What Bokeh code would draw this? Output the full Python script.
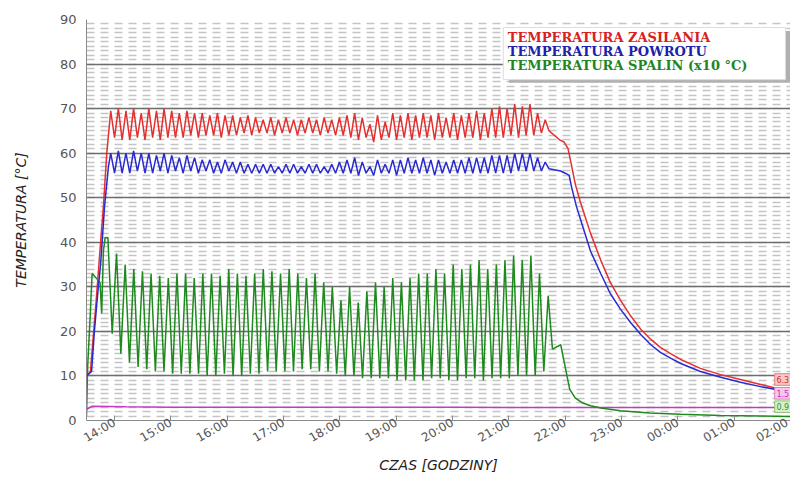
import math
from bokeh.plotting import figure
from bokeh.models import FixedTicker, SingleIntervalTicker, Range1d
from bokeh.embed import file_html
from bokeh.resources import INLINE
from bokeh.core.properties import value

# ---------------- data ----------------
hour_ticks = [14, 15, 16, 17, 18, 19, 20, 21, 22, 23, 24, 25, 26]
hour_labels = ["14:00", "15:00", "16:00", "17:00", "18:00", "19:00", "20:00",
               "21:00", "22:00", "23:00", "00:00", "01:00", "02:00"]

# start-up (hours, value)
red_start_t = [13.50, 13.57, 13.66, 13.75, 13.80, 13.86]
red_start_v = [10, 11, 25, 40, 48, 60]
blue_start_t = [13.50, 13.59, 13.64, 13.71, 13.75, 13.82, 13.89]
blue_start_v = [10, 11, 20, 30, 35, 48, 57]
green_start_t = [13.50, 13.52, 13.56, 13.60, 13.74, 13.77, 13.80, 13.83]
green_start_v = [1, 12, 22, 33, 31, 24, 38, 41]

# oscillating phase (boiler cycling)
osc_red_t0, osc_red_t1 = 13.93, 21.78
red_peaks = [69.5, 70, 69.5, 70, 69, 70, 69.5, 70, 69.5,
             69, 69.5, 69, 69, 68.5, 69, 68.5, 68.5, 68, 68.5,
             68, 67.5, 68, 67.5, 68, 67.5, 67.5, 68, 67.5, 68, 67.5, 68, 68.5,
             69, 68, 66.5, 68.5, 67, 69, 68.5, 69,
             68.5, 69, 68.5, 69, 68, 69, 68.5, 69, 69.5, 69, 70,
             70.5, 70, 71, 70.5, 71, 69, 67.5]
red_troughs = [63.5, 63, 63, 63.5, 63, 63.5, 63, 63.5, 63.5,
               63.5, 64, 63.5, 64, 64, 63.5, 64, 64, 64.5, 64,
               64.5, 64.5, 64, 64.5, 64.5, 64, 64.5, 64.5, 64, 64.5, 64, 64, 63.5,
               63, 63.5, 62.5, 63, 63.5, 63, 63.5, 63,
               63.5, 63.5, 63, 63.5, 63.5, 63, 63.5, 63.5, 63, 63.5, 63.5,
               63.5, 64, 63.5, 64, 64, 64.5, 65]
blue_peaks = [60, 60.5, 60, 60.5, 60, 60, 59.5, 60, 59.5,
              59, 59.5, 59, 58.5, 58.5, 58, 58.5, 58, 58, 57.5,
              57.5, 57.5, 57.5, 57, 57.5, 57.5, 57, 57.5, 57.5, 57, 57.5, 58, 58.5,
              59, 58, 57, 58.5, 57.5, 58.5, 58.5, 59,
              58.5, 59, 58.5, 58.5, 58, 58.5, 58.5, 59, 59, 59, 59.5,
              59.5, 59.5, 60, 60, 60, 59, 58]
blue_troughs = [55.5, 55.5, 55.5, 56, 55.5, 55.5, 56, 55.5, 56,
                55.5, 56, 55.5, 56, 55.5, 55.5, 56, 55.5, 55.5, 55.5,
                55.5, 55.5, 55.5, 55.5, 55.5, 55.5, 55.5, 55.5, 55.5, 55.5, 55.5, 55.5, 55.5,
                55, 55.5, 55, 55.5, 55.5, 55, 55.5, 55.5,
                55.5, 55.5, 55, 55.5, 55.5, 55.5, 55.5, 55.5, 55.5, 55.5, 55.5,
                55.5, 55.5, 56, 56, 56, 56, 56.5]

osc_green_t0, osc_green_t1 = 13.88, 21.85
green_peaks = [41, 37.5, 35, 34, 33.5, 33, 32.5, 32, 33, 33,
               32, 33, 33, 32.5, 34, 33, 32.5, 33, 34, 33.5,
               33, 34, 33, 32, 33, 31, 30,
               27, 30, 26.5, 29, 31, 30, 32, 31,
               32, 33, 33, 34, 33, 35, 34, 35, 36, 34,
               35, 36, 37, 36, 37, 33, 28]
green_troughs = [19.5, 15, 13, 12, 11.5, 11, 11, 10.5, 10.5, 10.5,
                 10.5, 10, 10, 10.5, 10, 10, 10.5, 10.5, 11, 11,
                 11, 11, 11.5, 11.5, 11, 11, 10.5,
                 10, 10, 9.5, 9.5, 9.5, 9.5, 9, 9,
                 9, 9, 9.5, 9.5, 9, 9, 9.5, 9.5, 9, 9.5,
                 9.5, 9.5, 10, 10, 10, 11, 16]

# shut-down / cooling
red_end_t = [21.90, 21.98, 22.05, 22.10, 22.18, 22.27, 22.45, 22.63, 22.80, 22.98,
             23.16, 23.34, 23.52, 23.69, 23.87, 24.05, 24.40, 24.76, 25.11, 25.47, 25.82, 26.0]
red_end_v = [63, 62.5, 61, 58, 53, 49, 42, 36, 31, 27,
             23.5, 20.5, 18.2, 16.4, 15, 13.7, 11.7, 10.3, 9.2, 8.1, 7.0, 6.5]
blue_end_t = [21.92, 22.00, 22.07, 22.12, 22.20, 22.30, 22.45, 22.63, 22.80, 22.98,
              23.16, 23.34, 23.52, 23.69, 23.87, 24.05, 24.40, 24.76, 25.11, 25.47, 25.82, 26.0]
blue_end_v = [56, 55.5, 55, 52, 48, 44, 38, 33, 28.5, 25,
              22, 19.3, 17, 15.3, 14, 12.8, 11, 9.7, 8.6, 7.6, 6.8, 6.4]
green_end_t = [21.92, 22.00, 22.08, 22.18, 22.30, 22.45, 22.63, 22.98, 23.50, 24.05, 24.76, 25.47, 26.0]
green_end_v = [17, 12, 7, 5, 4, 3.3, 2.8, 2.2, 1.7, 1.4, 1.1, 1.0, 0.9]

magenta_t = [13.50, 13.60, 14.20, 15.00, 20.00, 26.00]
magenta_v = [2.5, 3.2, 3.1, 3.0, 2.95, 2.9]

legend_texts = ["TEMPERATURA ZASILANIA", "TEMPERATURA POWROTU", "TEMPERATURA SPALIN (x10 \u00b0C)"]
end_labels = ["6.3", "1.5", "0.9"]
end_label_y = [9.2, 6.1, 3.1]


def osc(t0, t1, peaks, troughs, frac=0.5):
    n = len(peaks)
    step = (t1 - t0) / n
    xs, ys = [], []
    for i, (pk, tr) in enumerate(zip(peaks, troughs)):
        xs += [t0 + i * step, t0 + (i + frac) * step]
        ys += [pk, tr]
    return xs, ys


rx, ry = osc(osc_red_t0, osc_red_t1, red_peaks, red_troughs)
bx, by = osc(osc_red_t0, osc_red_t1, blue_peaks, blue_troughs)
gx, gy = osc(osc_green_t0, osc_green_t1, green_peaks, green_troughs)

red_x = red_start_t + rx + red_end_t
red_y = red_start_v + ry + red_end_v
blue_x = blue_start_t + bx + blue_end_t
blue_y = blue_start_v + by + blue_end_v
green_x = green_start_t + gx + green_end_t
green_y = green_start_v + gy + green_end_v

# ---------------- figure ----------------
p = figure(frame_width=704, frame_height=401, output_backend="svg", toolbar_location=None,
           x_range=Range1d(13.5, 26.0), y_range=Range1d(0, 90),
           min_border_left=86, min_border_right=0, min_border_top=19, min_border_bottom=0)
p.background_fill_color = "white"
p.border_fill_color = "white"
p.outline_line_color = None

p.yaxis.ticker = SingleIntervalTicker(interval=10, num_minor_ticks=10)
p.xaxis.ticker = FixedTicker(ticks=hour_ticks)
p.xaxis.major_label_overrides = {t: l for t, l in zip(hour_ticks, hour_labels)}
p.xaxis.major_label_orientation = math.pi / 6

p.ygrid.grid_line_color = "#6e6e6e"
p.ygrid.grid_line_width = 1.5
p.ygrid.minor_grid_line_color = "#c4c4c4"
p.ygrid.minor_grid_line_width = 1.5
p.ygrid.minor_grid_line_dash = "8 6"
p.xgrid.grid_line_color = None

for ax in (p.xaxis, p.yaxis):
    ax.axis_line_color = "#8a8a8a"
    ax.major_tick_line_color = "#8a8a8a"
    ax.minor_tick_line_color = None
    ax.major_label_text_color = "#555555"
    ax.major_label_text_font = "DejaVu Sans"
    ax.axis_label_text_font = "DejaVu Sans"
    ax.axis_label_text_font_style = "italic"
    ax.axis_label_text_color = "#222222"
    ax.axis_label_text_font_size = "14px"
p.yaxis.major_tick_out = 0
p.yaxis.major_tick_in = 0
p.xaxis.major_tick_out = 0
p.xaxis.major_tick_in = 5
p.yaxis.major_label_text_font_size = "13px"
p.xaxis.major_label_text_font_size = "12px"
p.yaxis.major_label_standoff = 6
p.xaxis.major_label_standoff = 1
p.yaxis.axis_label = "TEMPERATURA [\u00b0C]"
p.xaxis.axis_label = "CZAS [GODZINY]"
p.yaxis.axis_label_standoff = 28
p.xaxis.axis_label_standoff = 3

p.line(magenta_t, magenta_v, line_color="#c838c8", line_width=1.5)
p.line(green_x, green_y, line_color="#1e8a1e", line_width=1.5)
p.line(red_x, red_y, line_color="#e53030", line_width=1.5)
p.line(blue_x, blue_y, line_color="#2a2ad2", line_width=1.5)

# legend box with shadow
p.quad(left=[21.0], right=[26.0], top=[87.4], bottom=[75.8], fill_color="#b0b0b0", line_color=None)
p.quad(left=[20.90], right=[25.91], top=[88.2], bottom=[76.5], fill_color="white", line_color="#dddddd")
p.text(x=[20.98, 20.98, 20.98], y=[86.0, 82.8, 79.7], text=legend_texts,
       text_color=["#d82020", "#2020a8", "#1f861f"], text_font=value("DejaVu Serif"),
       text_font_style="bold", text_font_size="13px", text_baseline="middle")

# end-value boxes
p.quad(left=[25.72] * 3, right=[26.1] * 3, top=[y + 1.3 for y in end_label_y],
       bottom=[y - 1.3 for y in end_label_y],
       fill_color=["#f8c8c8", "#f8c8e8", "#d8f0c8"], line_color=["#e08080", "#e080c0", "#90c070"])
p.text(x=[25.75] * 3, y=end_label_y, text=end_labels,
       text_color=["#d03030", "#c030c0", "#309030"], text_font=value("DejaVu Sans"),
       text_font_size="8px", text_baseline="middle")

open("out.html", "w").write(file_html(p, INLINE))
